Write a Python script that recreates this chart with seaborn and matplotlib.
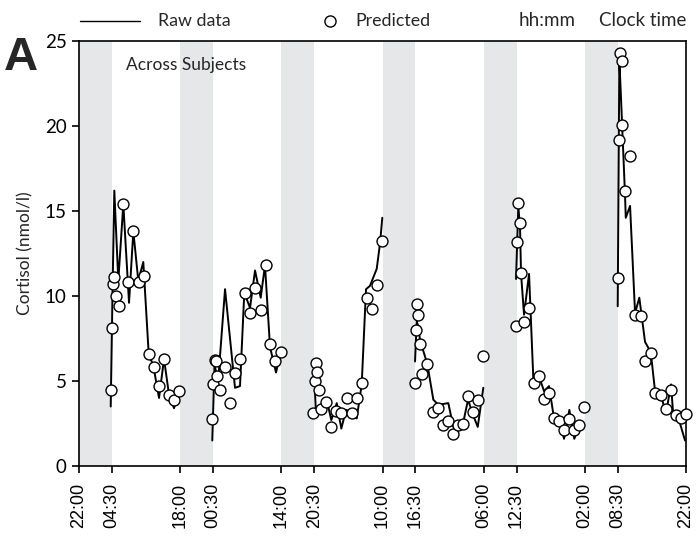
import numpy as np
import pandas as pd
import matplotlib
matplotlib.use("Agg")
import matplotlib.pyplot as plt
import seaborn as sns
from matplotlib.lines import Line2D

# ---------------- data (hours since 22:00 of day 0, cortisol nmol/l) ----------------
raw_t1 = [6.27, 6.66, 6.98, 7.77, 8.76, 9.89, 10.74, 11.72, 12.71, 13.78, 14.69, 15.82, 16.81, 17.79, 18.78, 19.77]
raw_v1 = [3.5, 10.8, 16.2, 10.9, 15.4, 9.6, 13.8, 10.9, 12.0, 6.6, 5.9, 4.0, 6.3, 4.2, 3.4, 4.4]
pred_t1 = [6.27, 6.46, 6.78, 6.98, 7.26, 7.85, 8.76, 9.75, 10.74, 11.86, 12.85, 13.78, 14.83, 15.82, 16.81, 17.79, 18.84, 19.83]
pred_v1 = [4.5, 8.1, 10.7, 11.1, 10.0, 9.4, 15.4, 10.8, 13.8, 10.8, 11.2, 6.6, 5.8, 4.7, 6.3, 4.2, 3.9, 4.4]

raw_t2 = [26.35, 26.79, 27.48, 28.87, 30.84, 31.83, 32.68, 33.81, 34.80, 35.92, 36.77, 37.76, 38.95, 39.88]
raw_v2 = [1.5, 6.0, 4.9, 10.4, 4.6, 4.7, 10.2, 9.3, 11.5, 9.9, 11.8, 7.0, 5.5, 6.7]
pred_t2 = [26.35, 26.49, 26.89, 27.09, 27.34, 27.88, 28.87, 29.85, 30.84, 31.83, 32.82, 33.81, 34.80, 35.92, 36.91, 37.82, 38.81, 39.88]
pred_v2 = [2.75, 4.8, 6.25, 6.2, 5.3, 4.5, 5.85, 3.7, 5.5, 6.3, 10.2, 9.0, 10.5, 9.2, 11.85, 7.2, 6.2, 6.7]

raw_t3 = [46.66, 46.86, 47.84, 48.97, 49.88, 50.95, 51.86, 52.79, 53.91, 54.90, 55.89, 56.74, 57.53, 58.86, 59.51, 59.96]
raw_v3 = [4.3, 3.0, 3.5, 3.9, 2.7, 3.7, 2.2, 3.3, 3.2, 2.8, 4.8, 10.4, 10.6, 11.6, 13.1, 14.6]
pred_t3 = [46.32, 46.66, 46.86, 47.11, 47.45, 47.84, 48.83, 49.88, 50.81, 51.80, 52.93, 53.91, 54.90, 55.89, 56.88, 57.87, 58.86, 59.85]
pred_v3 = [3.1, 5.0, 6.05, 5.55, 4.5, 3.35, 3.75, 2.3, 3.25, 3.1, 4.0, 3.1, 4.0, 4.9, 9.9, 9.25, 10.65, 13.25]

raw_t4 = [66.43, 66.77, 67.08, 67.42, 68.86, 70.05, 71.04, 73.01, 74.00, 74.87, 75.92, 76.91, 77.90, 78.83, 79.93]
raw_v4 = [6.15, 8.5, 8.2, 7.4, 6.0, 3.9, 3.6, 3.7, 2.3, 2.4, 2.5, 3.9, 3.0, 2.3, 4.6]
pred_t4 = [66.37, 66.57, 66.88, 67.08, 67.42, 67.87, 68.86, 70.05, 70.98, 71.91, 72.90, 73.88, 74.87, 75.92, 76.91, 77.90, 78.89, 79.93]
pred_v4 = [4.9, 8.0, 9.55, 8.9, 7.2, 5.4, 6.0, 3.15, 3.4, 2.4, 2.65, 1.9, 2.4, 2.5, 4.1, 3.2, 3.9, 6.45]

raw_t5 = [86.40, 86.85, 87.19, 87.39, 87.98, 88.97, 89.82, 90.94, 91.93, 92.92, 93.91, 94.90, 95.89, 96.94, 97.92, 98.91]
raw_v5 = [11.0, 15.3, 14.0, 11.3, 8.9, 11.3, 5.1, 5.3, 4.4, 4.7, 2.8, 2.7, 1.6, 3.3, 1.6, 2.4]
pred_t5 = [86.34, 86.66, 86.85, 87.19, 87.39, 87.98, 88.97, 89.96, 90.94, 91.93, 92.92, 93.91, 94.90, 95.89, 96.94, 97.92, 98.91, 99.90]
pred_v5 = [8.25, 13.2, 15.5, 14.3, 11.35, 8.5, 9.3, 4.9, 5.3, 3.95, 4.3, 2.8, 2.65, 2.1, 2.75, 2.1, 2.4, 3.5]

raw_t6 = [106.50, 106.82, 107.10, 107.95, 108.09, 108.94, 109.93, 110.77, 111.90, 113.03, 113.88, 115.00, 116.05, 117.04, 117.50, 118.82, 119.81]
raw_v6 = [9.4, 23.9, 22.0, 15.9, 14.6, 15.3, 9.0, 9.9, 7.3, 6.7, 4.4, 4.2, 3.1, 4.8, 2.9, 2.5, 1.5]
pred_t6 = [106.50, 106.76, 106.96, 107.30, 107.42, 107.95, 108.94, 109.93, 111.05, 111.90, 113.03, 113.88, 115.00, 116.05, 117.04, 118.03, 118.96, 120.01]
pred_v6 = [11.05, 19.2, 24.3, 23.85, 20.05, 16.15, 18.25, 8.9, 8.85, 6.2, 6.65, 4.3, 4.2, 3.35, 4.5, 3.0, 2.85, 3.05]

tick_pos = [0, 6.5, 20, 26.5, 40, 46.5, 60, 66.5, 80, 86.5, 100, 106.5, 120]
tick_labels = ["22:00", "04:30", "18:00", "00:30", "14:00", "20:30", "10:00", "16:30",
               "06:00", "12:30", "02:00", "08:30", "22:00"]
band_start = [0, 20, 40, 60, 80, 100]
band_end = [6.5, 26.5, 46.5, 66.5, 86.5, 106.5]
y_ticks = [0, 5, 10, 15, 20, 25]

# ---------------- build tables ----------------
raw_ts = [raw_t1, raw_t2, raw_t3, raw_t4, raw_t5, raw_t6]
raw_vs = [raw_v1, raw_v2, raw_v3, raw_v4, raw_v5, raw_v6]
pred_ts = [pred_t1, pred_t2, pred_t3, pred_t4, pred_t5, pred_t6]
pred_vs = [pred_v1, pred_v2, pred_v3, pred_v4, pred_v5, pred_v6]

raw = pd.concat([pd.DataFrame({"t": t, "v": v, "seg": i}) for i, (t, v) in enumerate(zip(raw_ts, raw_vs))])
pred = pd.concat([pd.DataFrame({"t": t, "v": v, "seg": i}) for i, (t, v) in enumerate(zip(pred_ts, pred_vs))])

# ---------------- plot ----------------
sns.set_theme(style="white")
plt.rcParams['font.family'] = ['Lato', 'DejaVu Sans']

fig = plt.figure(figsize=(6.96, 5.37), dpi=100)
ax = fig.add_axes([79 / 696, (537 - 466) / 537, 607 / 696, 425 / 537])

for s, e in zip(band_start, band_end):
    ax.axvspan(s, e, color='#e6e7e9', lw=0, zorder=0)

sns.lineplot(data=raw, x="t", y="v", units="seg", estimator=None, sort=False,
             color="black", lw=1.4, ax=ax, legend=False, zorder=2)
sns.scatterplot(data=pred, x="t", y="v", s=62, color="white", edgecolor="black",
                linewidth=1.0, ax=ax, legend=False, zorder=3, clip_on=False)

ax.set_xlim(0, 120)
ax.set_ylim(0, 25)
ax.set_xticks(tick_pos)
ax.set_xticklabels(tick_labels, rotation=90, fontsize=13, family=['Liberation Sans'])
ax.set_yticks(y_ticks)
ax.set_yticklabels([str(v) for v in y_ticks], fontsize=13.5)
ax.set_xlabel("")
ax.set_ylabel("Cortisol (nmol/l)", fontsize=12.5, labelpad=8)

for sp in ax.spines.values():
    sp.set_visible(True)
    sp.set_color("black")
    sp.set_linewidth(1.2)
ax.tick_params(axis="both", which="both", direction="out", length=5, width=1.2,
               colors="black", left=True, bottom=True, top=False, right=False, pad=4)
ax.tick_params(axis="x", pad=7)

ax.text(0.078, 0.944, "Across Subjects", transform=ax.transAxes, fontsize=12.5,
        va="center", ha="left")

# legend line above the plot
ly = 1 - 21 / 537
fig.add_artist(Line2D([80 / 696, 140 / 696], [ly, ly], color="black", lw=1.0))
fig.text(158 / 696, ly, "Raw data", fontsize=12.8, va="center", ha="left")
fig.add_artist(Line2D([330 / 696], [ly], marker="o", markerfacecolor="white",
                      markeredgecolor="black", markersize=8, lw=0))
fig.text(355 / 696, ly, "Predicted", fontsize=12.8, va="center", ha="left")
fig.text(519 / 696, ly, "hh:mm", fontsize=13.5, va="center", ha="left")
fig.text(686 / 696, ly, "Clock time", fontsize=13.5, va="center", ha="right")

fig.text(4 / 696, 1 - 58 / 537, "A", fontsize=34, fontweight="bold", va="center",
         ha="left", family=['Liberation Sans'])

fig.savefig("out.png", dpi=100)
